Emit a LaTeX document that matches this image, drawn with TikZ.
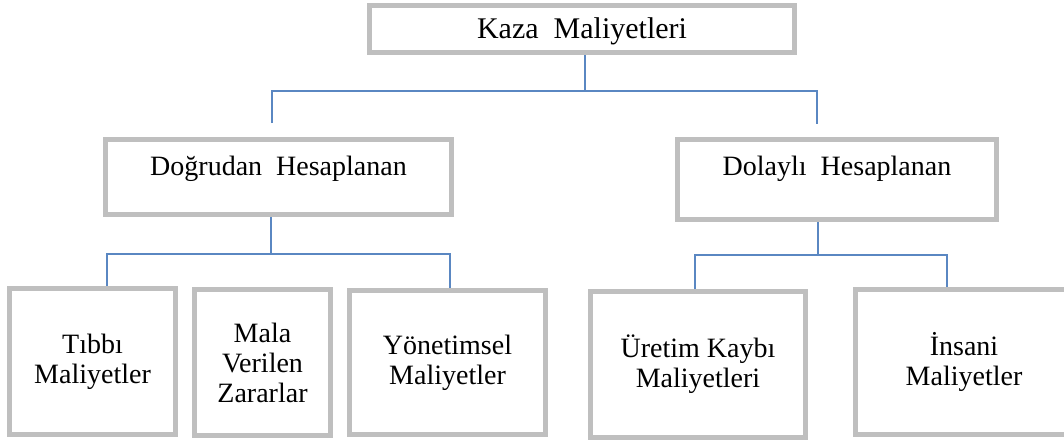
\documentclass[tikz,border=0pt]{standalone}
\usepackage{fontspec}
\setmainfont{Liberation Serif}
\usepackage{tikz}
\usetikzlibrary{positioning, calc}
\definecolor{kazagray}{HTML}{BFBFBF}
\definecolor{kazablue}{HTML}{5A87C2}

\begin{document}
\begin{tikzpicture}[
  x=0.5pt, y=-0.5pt,
  costbox/.style={
    rectangle, draw=kazagray, line width=2.5pt, fill=white,
    inner sep=0pt, font=\fontsize{14pt}{15pt}\selectfont
  },
  leaf/.style={costbox, align=center},
  link/.style={line width=0.8pt, color=kazablue},
]
\useasboundingbox (0,0) rectangle (1064,446);

\node[costbox, minimum width=212.5pt, text height=16.25pt, text depth=7.25pt,
      font=\fontsize{15pt}{16pt}\selectfont]
  (top) at (582,29) {Kaza~~Maliyetleri};

\node[costbox, minimum width=173pt, text height=17.75pt, text depth=19.75pt]
  (dogru) at (278.5,177) {Doğrudan~~Hesaplanan};
\node[costbox, minimum width=159.5pt, text height=17.75pt, text depth=22.25pt]
  (dolay) at (837,179.5) {Dolaylı~~Hesaplanan};

\node[leaf, minimum width=83pt, minimum height=73pt] (tibbi) at (92.5,361.5) {Tıbbı\\Maliyetler};
\node[leaf, minimum width=68pt, minimum height=73pt] (mala) at (262.5,362.5) {Mala\\Verilen\\Zararlar};
\node[leaf, minimum width=98pt, minimum height=72pt] (yonet) at (447.5,362.5) {Yönetimsel\\Maliyetler};
\node[leaf, minimum width=107.5pt, minimum height=73pt] (uretim) at (698,364.5) {Üretim Kaybı\\Maliyetleri};
\node[leaf, minimum width=108.5pt, minimum height=72.5pt] (insani) at (964,362) {İnsani\\Maliyetler};

% top level bus
\coordinate (kM) at (585,91);
\coordinate (kL) at (272,91);
\coordinate (kR) at (817,91);
\draw[link] (kM |- top.south) -- (kM);
\draw[link] ($(kL |- dogru.north)+(0,-14)$) -- (kL) -- (kR) -- ($(kR |- dolay.north)+(0,-13)$);

% direct costs
\coordinate (dM) at (271,254);
\coordinate (dL) at (107,254);
\coordinate (dR) at (450,254);
\draw[link] (dM |- dogru.south) -- (dM);
\draw[link] (dL |- tibbi.north) -- (dL) -- (dR) -- (dR |- yonet.north);

% indirect costs
\coordinate (eM) at (818,255);
\coordinate (eL) at (695,255);
\coordinate (eR) at (947,255);
\draw[link] (eM |- dolay.south) -- (eM);
\draw[link] (eL |- uretim.north) -- (eL) -- (eR) -- (eR |- insani.north);
\end{tikzpicture}
\end{document}
